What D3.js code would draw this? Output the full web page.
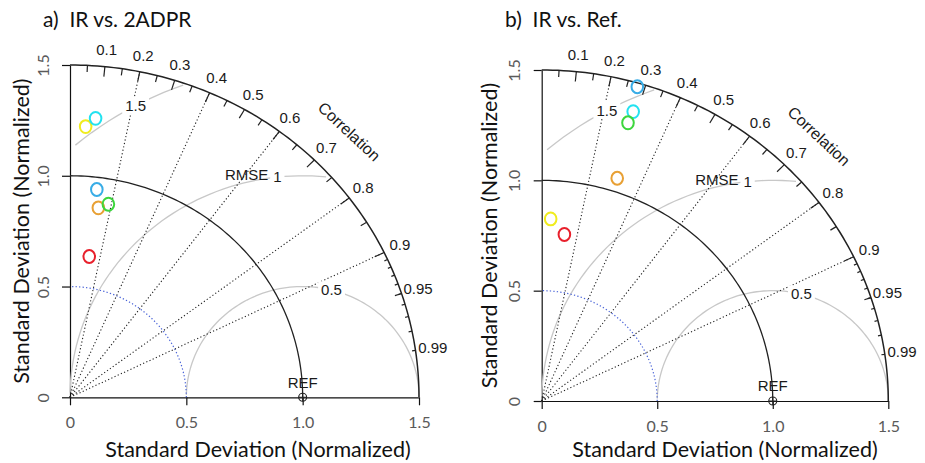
<!DOCTYPE html>
<html>
<head>
<meta charset="utf-8">
<script src="https://cdn.jsdelivr.net/npm/d3@7"></script>
<style>
	body { margin: 0; background: #fff; }
	.plotText { font-family: "Liberation Sans", Arial, sans-serif; fill: #1a1a1a; }
	.calText { font-family: Lato, "Open Sans", sans-serif; white-space: pre; }
</style>
</head>
<body>
<svg id="chart" width="925" height="463"></svg>
<script>
'use strict';

//Marker colours, in the same order as the values below
var seriesColors = ['#f0ec1e', '#22e2f0', '#38ace6', '#e8a034', '#3dd63d', '#e8202c'];

//Panel a) IR vs. 2ADPR : normalized standard deviation and correlation
var sdA  = [1.224, 1.264, 0.945, 0.864, 0.887, 0.641];
var corA = [0.055, 0.087, 0.122, 0.141, 0.186, 0.129];

//Panel b) IR vs. Ref.
var sdB  = [0.826, 1.370, 1.483, 1.061, 1.315, 0.761];
var corB = [0.047, 0.289, 0.279, 0.308, 0.284, 0.129];

//Axis and grid values
var sdTicks = [0, 0.5, 1.0, 1.5];
var corrLabels = [0.1, 0.2, 0.3, 0.4, 0.5, 0.6, 0.7, 0.8, 0.9, 0.95, 0.99];
var corrBigTicks = [0.1, 0.2, 0.3, 0.4, 0.5, 0.6, 0.7, 0.8, 0.9];
var corrMedTicks = [0.05, 0.15, 0.25, 0.35, 0.45, 0.55, 0.65, 0.75, 0.85, 0.95];
var corrSmallTicks = [0.91, 0.92, 0.93, 0.94, 0.95, 0.96, 0.97, 0.98, 0.99];
var corrLines = [0.2, 0.4, 0.6, 0.8, 0.9];
var rmseLevels = [0.5, 1, 1.5];

var maxSd = 1.5, refSd = 1.0;
//index (on the 0.03 rad curve steps) where each RMSE label sits
var rmseLabelIdx = [44, 56, 69];

var panels = [
	{title: 'a)  IR vs. 2ADPR', sd: sdA, cor: corA,
		x0: 70, x1: 419, y0: 397.3, y1: 65, titleX: 43, xTitleX: 258, yTitleX: 21},
	{title: 'b)  IR vs. Ref.', sd: sdB, cor: corB,
		x0: 541.7, x1: 888.3, y0: 401, y1: 70, titleX: 505, xTitleX: 725, yTitleX: 489}
];

var svg = d3.select('#chart');

function drawPanel(p) {
	var g = svg.append('g');
	var x = d3.scaleLinear().domain([0, maxSd]).range([p.x0, p.x1]);
	var y = d3.scaleLinear().domain([0, maxSd]).range([p.y0, p.y1]);
	var line = d3.line();

	//point at radius r, angle th (polar about the origin)
	function polar(r, th) { return [x(r * Math.cos(th)), y(r * Math.sin(th))]; }
	function quarterArc(r) {
		return line(d3.range(0, 101).map(function(i) { return polar(r, i / 100 * Math.PI / 2); }));
	}

	/***************************************
	 * AXES
	 ***************************************/
	var fmt = function(d) { return d === 0 ? '0' : d3.format('.1f')(d); };

	var xAxis = g.append('g')
		.attr('transform', 'translate(0,' + p.y0 + ')')
		.call(d3.axisBottom(x).tickValues(sdTicks).tickSize(8).tickSizeOuter(0).tickFormat(fmt));
	xAxis.selectAll('text')
		.attr('y', 25).attr('dy', '0.35em')
		.attr('class', 'calText').style('font-size', '16px').style('fill', '#5a5a5a');

	var yAxis = g.append('g')
		.attr('transform', 'translate(' + p.x0 + ',0)')
		.call(d3.axisLeft(y).tickValues(sdTicks).tickSize(8).tickSizeOuter(0).tickFormat(fmt));
	yAxis.selectAll('text')
		.attr('transform', 'rotate(-90)')
		.attr('x', 0).attr('y', -27).attr('dy', '0.35em')
		.style('text-anchor', 'middle')
		.attr('class', 'calText').style('font-size', '16px').style('fill', '#5a5a5a');

	g.selectAll('.domain, .tick line').attr('stroke', '#111').attr('stroke-width', 1.2);

	//axis titles
	g.append('text').attr('class', 'calText')
		.attr('x', p.xTitleX).attr('y', 449).attr('dy', '0.35em')
		.style('text-anchor', 'middle').style('font-size', '21.5px').style('fill', '#111')
		.text('Standard Deviation (Normalized)');
	g.append('text').attr('class', 'calText')
		.attr('transform', 'translate(' + p.yTitleX + ',' + ((p.y0 + p.y1) / 2) + ') rotate(-90)')
		.attr('dy', '0.35em')
		.style('text-anchor', 'middle').style('font-size', '21.5px').style('fill', '#111')
		.text('Standard Deviation (Normalized)');

	//panel title
	g.append('text').attr('class', 'calText')
		.attr('x', p.titleX).attr('y', 27)
		.style('font-size', '21px').style('fill', '#111')
		.text(p.title);

	/***************************************
	 * RMSE ARCS (centered on REF)
	 ***************************************/
	var steps = d3.range(0, 105).map(function(i) { return i * 0.03; });
	var rmseLabels = [];
	rmseLevels.forEach(function(gm, k) {
		var xc = steps.map(function(t) { return Math.cos(t) * gm + refSd; });
		var yc = steps.map(function(t) { return Math.sin(t) * gm; });
		var end = xc.findIndex(function(v) { return v < 0; });
		end = end < 0 ? xc.length - 1 : end - 1;
		var start = 0;
		xc.forEach(function(v, i) { if (v * v + yc[i] * yc[i] > maxSd * maxSd) start = i + 1; });
		var pts = d3.range(start, end + 1).map(function(i) { return [x(xc[i]), y(yc[i])]; });
		g.append('path').attr('d', line(pts))
			.attr('fill', 'none').attr('stroke', '#c8c8c8').attr('stroke-width', 1.3);
		var li = rmseLabelIdx[k];
		rmseLabels.push({v: gm, px: x(xc[li]), py: y(yc[li])});
	});

	//blue dotted arc at 0.5
	g.append('path').attr('d', quarterArc(0.5))
		.attr('fill', 'none').attr('stroke', '#4a64d8').attr('stroke-width', 1.2)
		.attr('stroke-dasharray', '1.3,2.2');

	//correlation lines
	g.selectAll('.corrLine').data(corrLines).enter().append('path')
		.attr('d', function(c) { return line([polar(0, 0), polar(maxSd, Math.acos(c))]); })
		.attr('fill', 'none').attr('stroke', '#222').attr('stroke-width', 1.1)
		.attr('stroke-dasharray', '1.2,2.3');

	//reference sd arc and outer arc
	g.append('path').attr('d', quarterArc(refSd))
		.attr('fill', 'none').attr('stroke', '#222').attr('stroke-width', 1.3);
	g.append('path').attr('d', quarterArc(maxSd))
		.attr('fill', 'none').attr('stroke', '#222').attr('stroke-width', 1.5);

	//correlation ticks on outer arc
	function ticks(vals, frac) {
		g.append('g').selectAll('path').data(vals).enter().append('path')
			.attr('d', function(c) {
				var th = Math.acos(c);
				return line([polar(maxSd, th), polar(maxSd * frac, th)]);
			})
			.attr('stroke', '#222').attr('stroke-width', 1.2);
	}
	ticks(corrBigTicks, 0.97);
	ticks(corrMedTicks, 0.98);
	ticks(corrSmallTicks, 0.99);

	g.append('g').selectAll('text').data(corrLabels).enter().append('text')
		.attr('class', 'plotText')
		.attr('x', function(c) { return polar(maxSd * 1.05, Math.acos(c))[0]; })
		.attr('y', function(c) { return polar(maxSd * 1.05, Math.acos(c))[1]; })
		.attr('dy', '0.35em').style('text-anchor', 'middle').style('font-size', '15px')
		.text(function(c) { return c; });

	g.append('text').attr('class', 'plotText')
		.attr('transform', 'translate(' + x(0.8 * maxSd) + ',' + y(0.8 * maxSd) + ') rotate(43)')
		.attr('dy', '0.35em').style('text-anchor', 'middle').style('font-size', '16px')
		.text('Correlation');

	//boxed RMSE labels
	rmseLabels.forEach(function(l) {
		var t = g.append('text').attr('class', 'plotText')
			.attr('x', l.px).attr('y', l.py).attr('dy', '0.35em')
			.style('text-anchor', 'middle').style('font-size', '15px')
			.text(l.v);
		var bb = t.node().getBBox();
		g.insert('rect', function() { return t.node(); })
			.attr('x', bb.x - 3).attr('y', bb.y).attr('width', bb.width + 6).attr('height', bb.height)
			.attr('fill', '#fff');
		if (l.v === 1) {
			g.append('text').attr('class', 'plotText')
				.attr('x', l.px - 9).attr('y', l.py - 2).attr('dy', '0.35em')
				.style('text-anchor', 'end').style('font-size', '15px')
				.text('RMSE');
		}
	});

	//REF point
	var rx = x(refSd), ry = y(0);
	g.append('circle').attr('cx', rx).attr('cy', ry).attr('r', 4)
		.attr('fill', 'none').attr('stroke', '#222').attr('stroke-width', 1.1);
	g.append('path').attr('d', line([[rx - 4, ry], [rx + 4, ry]]) + line([[rx, ry - 4], [rx, ry + 4]]))
		.attr('stroke', '#222').attr('stroke-width', 1.1);
	g.append('text').attr('class', 'plotText')
		.attr('x', rx).attr('y', ry - 15).attr('dy', '0.35em')
		.style('text-anchor', 'middle').style('font-size', '15px')
		.text('REF');

	/***************************************
	 * DATA POINTS
	 ***************************************/
	g.append('g').selectAll('ellipse').data(p.sd).enter().append('ellipse')
		.attr('cx', function(s, i) { return polar(s, Math.acos(p.cor[i]))[0]; })
		.attr('cy', function(s, i) { return polar(s, Math.acos(p.cor[i]))[1]; })
		.attr('rx', 5.8).attr('ry', 6.4)
		.attr('fill', 'none')
		.attr('stroke', function(s, i) { return seriesColors[i]; })
		.attr('stroke-width', 2);
}

panels.forEach(drawPanel);
</script>
</body>
</html>
